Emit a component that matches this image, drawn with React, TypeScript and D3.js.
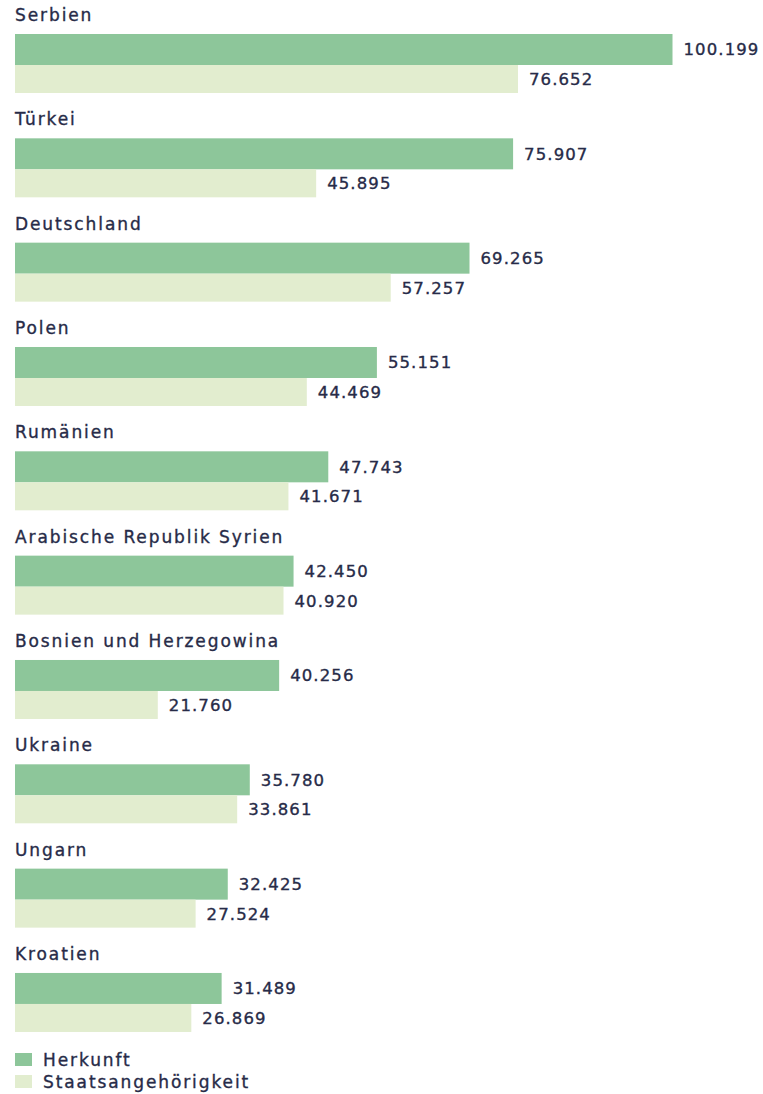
import React from "react";
import * as d3 from "d3";

const categories = [
  "Serbien",
  "Türkei",
  "Deutschland",
  "Polen",
  "Rumänien",
  "Arabische Republik Syrien",
  "Bosnien und Herzegowina",
  "Ukraine",
  "Ungarn",
  "Kroatien",
];
const herkunft = [100199, 75907, 69265, 55151, 47743, 42450, 40256, 35780, 32425, 31489];
const staatsangehoerigkeit = [76652, 45895, 57257, 44469, 41671, 40920, 21760, 33861, 27524, 26869];
const seriesNames = ["Herkunft", "Staatsangehörigkeit"];

const COLORS = ["#8dc69a", "#e2edcf"];
const TEXT = "#272b48";
const FONT = "'DejaVu Sans', sans-serif";

const W = 763;
const H = 1094;

const fmt = d3
  .formatLocale({ decimal: ",", thousands: ".", grouping: [3], currency: ["", "€"] })
  .format(",d");

const labelStyle = {
  fontSize: 17,
  letterSpacing: 1.9,
  fill: TEXT,
  stroke: TEXT,
  strokeWidth: 0.35,
} as const;
const valueStyle = {
  fontSize: 16.5,
  letterSpacing: 1.1,
  fill: TEXT,
  stroke: TEXT,
  strokeWidth: 0.35,
} as const;

export default function App() {
  const x = d3.scaleLinear().domain([0, herkunft[0]]).range([15, 672.5]);
  const y = d3
    .scaleBand<string>()
    .domain(categories)
    .range([34, 34 + 104.33 * categories.length])
    .paddingInner(0)
    .paddingOuter(0);
  const h1 = 31;
  const h2 = 28;

  return (
    <svg
      width={W}
      height={H}
      style={{ position: "absolute", left: 0, top: 0, background: "#fff" }}
      fontFamily={FONT}
    >
      {categories.map((c, i) => {
        const y0 = y(c)!;
        return (
          <g key={c}>
            <text x={15} y={y0 - 13} style={labelStyle}>
              {c}
            </text>
            <rect x={x(0)} y={y0} width={x(herkunft[i]) - x(0)} height={h1} fill={COLORS[0]} />
            <rect x={x(0)} y={y0 + h1} width={x(staatsangehoerigkeit[i]) - x(0)} height={h2} fill={COLORS[1]} />
            <text x={x(herkunft[i]) + 11} y={y0 + h1 / 2} dy="0.36em" style={valueStyle}>
              {fmt(herkunft[i])}
            </text>
            <text x={x(staatsangehoerigkeit[i]) + 11} y={y0 + h1 + h2 / 2} dy="0.36em" style={valueStyle}>
              {fmt(staatsangehoerigkeit[i])}
            </text>
          </g>
        );
      })}
      {seriesNames.map((s, i) => (
        <g key={s}>
          <rect x={15} y={1053 + i * 22} width={17} height={13} fill={COLORS[i]} />
          <text x={43} y={1066 + i * 22} style={labelStyle}>
            {s}
          </text>
        </g>
      ))}
    </svg>
  );
}
